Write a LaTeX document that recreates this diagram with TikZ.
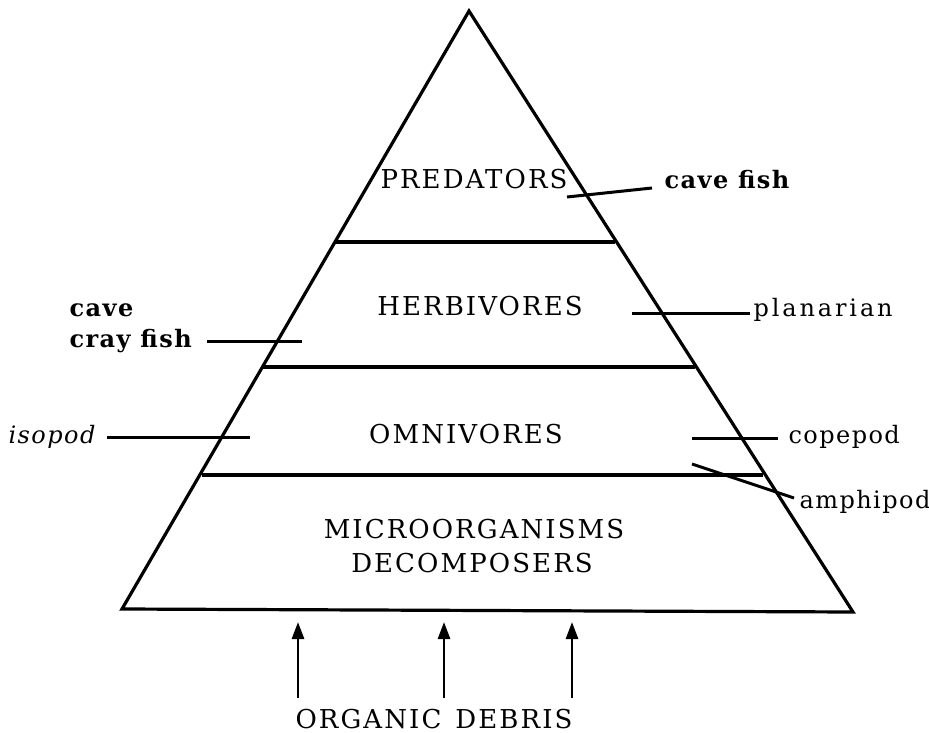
\documentclass[tikz,border=0pt]{standalone}
\usepackage{fontspec}
\setmainfont{DejaVu Serif}
\newfontfamily\capsfont[LetterSpace=8]{DejaVu Serif}
\newfontfamily\lowfont[LetterSpace=6]{DejaVu Serif}
\usetikzlibrary{arrows.meta}
\begin{document}
\begin{tikzpicture}[x=1pt,y=-1pt,line width=3.2pt,
  lvl/.style={font=\fontsize{26}{30}\selectfont\capsfont,inner sep=0pt,anchor=base},
  lbl/.style={font=\fontsize{24}{28}\selectfont\lowfont,inner sep=0pt,anchor=base west},
  lblb/.style={font=\fontsize{24}{28}\selectfont\lowfont\bfseries,inner sep=0pt,anchor=base west},
  lbr/.style={font=\fontsize{24}{28}\selectfont\lowfont,inner sep=0pt,anchor=base east},
  feed/.style={-{Triangle[length=17pt,width=12pt]},line width=2.8pt},
  tick/.style={line width=3pt}]
\useasboundingbox (0,0) rectangle (929,733);
% pyramid
\coordinate (apex) at (469,11);
\coordinate (bl) at (122,609);
\coordinate (br) at (853,612);
\draw[line join=miter] (apex) -- (bl) -- (br) -- cycle;
% dividers
\coordinate (d1l) at (336,242); \coordinate (d1r) at (615,242);
\coordinate (d2l) at (262,367); \coordinate (d2r) at (695,367);
\coordinate (d3l) at (202,475); \coordinate (d3r) at (763,475);
\draw (d1l) -- (d1r);
\draw (d2l) -- (d2r);
\draw (d3l) -- (d3r);
% level names
\node[lvl] (pred) at (474,188) {PREDATORS};
\node[lvl] (herb) at (480,315) {HERBIVORES};
\node[lvl] (omni) at (466,443) {OMNIVORES};
\node[lvl] (micro) at (474,538) {MICROORGANISMS};
\node[lvl] (decomp) at (472,572) {DECOMPOSERS};
\node[lvl] (debris) at (434,728) {ORGANIC\hspace{14pt}DEBRIS};
% animal labels
\node[lblb] (cavefish) at (663,189) {cave fish};
\node[lbl,font=\fontsize{24}{28}\selectfont\addfontfeature{LetterSpace=12}] (planarian) at (752,316) {planarian};
\node[lblb] (cave) at (68,316) {cave};
\node[lblb] (crayfish) at (68,347) {cray fish};
\node[lbr] (isopod) at (97,443) {\itshape isopod};
\node[lbl] (copepod) at (787,443) {copepod};
\node[lbl] (amphipod) at (798,508) {amphipod};
% label lines
\coordinate (cfa) at (567,197); \coordinate (cfb) at (652,188);
\draw[tick] (cfa) -- (cfb);
\coordinate (pla) at (632,313); \coordinate (plb) at (750,313);
\draw[tick] (pla) -- (plb);
\coordinate (cra) at (207,341); \coordinate (crb) at (302,341);
\draw[tick] (cra) -- (crb);
\coordinate (isa) at (107,437); \coordinate (isb) at (250,437);
\draw[tick] (isa) -- (isb);
\coordinate (coa) at (692,438); \coordinate (cob) at (778,438);
\draw[tick] (coa) -- (cob);
\coordinate (ama) at (692,464); \coordinate (amb) at (794,498);
\draw[tick] (ama) -- (amb);
% organic debris arrows
\coordinate (a1s) at (298,698); \coordinate (a1e) at (298,622);
\coordinate (a2s) at (444,698); \coordinate (a2e) at (444,622);
\coordinate (a3s) at (572,698); \coordinate (a3e) at (572,622);
\draw[feed] (a1s) -- (a1e);
\draw[feed] (a2s) -- (a2e);
\draw[feed] (a3s) -- (a3e);
\end{tikzpicture}
\end{document}
